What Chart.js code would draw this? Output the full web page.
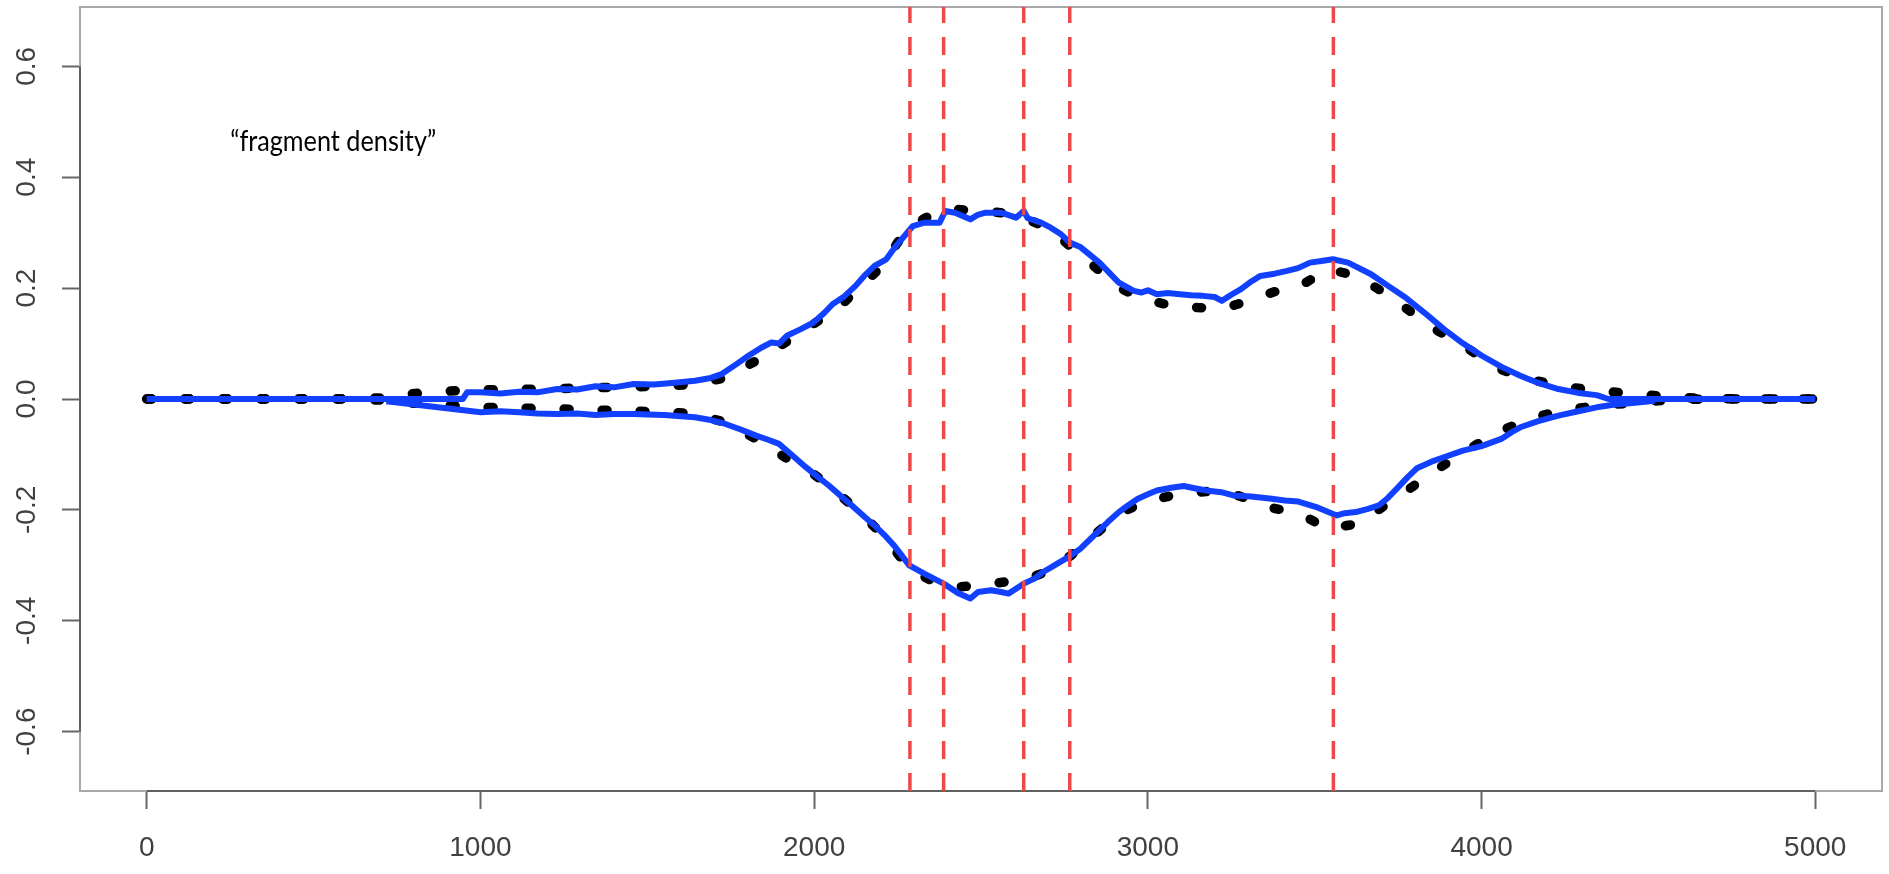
<!DOCTYPE html>
<html>
<head>
<meta charset="utf-8">
<title>fragment density</title>
<script src="https://cdn.jsdelivr.net/npm/chart.js@4/dist/chart.umd.min.js"></script>
<style>
  html, body { margin: 0; padding: 0; background: #fff; }
  #wrap { position: relative; width: 1889px; height: 874px; }
</style>
</head>
<body>
<div id="wrap"><canvas id="densityChart"></canvas></div>
<script>
// tick positions
const xTicks = [0, 1000, 2000, 3000, 4000, 5000];
const yTicks = [-0.6, -0.4, -0.2, 0, 0.2, 0.4, 0.6];

// breakpoint positions (red dashed lines)
const cutPositions = [2287, 2388, 2628, 2766, 3556];

// expected density, upper and lower strand (black dotted)
const expTopX = [0, 200, 400, 600, 700, 725, 848, 955, 1077, 1191, 1298, 1410, 1520, 1634, 1734, 1826, 1906, 1990, 2073, 2141, 2204, 2250, 2285, 2353, 2422, 2502, 2560, 2628, 2709, 2766, 2844, 2913, 2987, 3067, 3148, 3224, 3302, 3377, 3457, 3531, 3545, 3623, 3709, 3789, 3869, 3955, 4041, 4127, 4230, 4345, 4465, 4574, 4700, 4800, 5000];
const expTopY = [0, 0, 0, 0, 0.002, 0.006, 0.012, 0.016, 0.017, 0.018, 0.020, 0.021, 0.023, 0.026, 0.038, 0.069, 0.099, 0.132, 0.165, 0.204, 0.240, 0.282, 0.310, 0.333, 0.342, 0.339, 0.336, 0.327, 0.306, 0.276, 0.237, 0.201, 0.180, 0.169, 0.165, 0.163, 0.177, 0.193, 0.204, 0.231, 0.234, 0.222, 0.192, 0.157, 0.123, 0.093, 0.057, 0.038, 0.024, 0.015, 0.009, 0.003, 0.001, 0, 0];
const expBotX = [0, 200, 400, 600, 700, 725, 848, 955, 1077, 1191, 1298, 1413, 1520, 1634, 1734, 1826, 1912, 1998, 2073, 2147, 2216, 2285, 2359, 2428, 2497, 2571, 2640, 2709, 2770, 2844, 2913, 2987, 3073, 3148, 3228, 3302, 3377, 3457, 3537, 3629, 3703, 3784, 3869, 3955, 4047, 4133, 4230, 4351, 4471, 4574, 4700, 5000];
const expBotY = [0, 0, 0, 0, -0.002, -0.007, -0.008, -0.014, -0.016, -0.017, -0.019, -0.021, -0.023, -0.026, -0.042, -0.072, -0.105, -0.135, -0.171, -0.210, -0.252, -0.306, -0.330, -0.339, -0.336, -0.330, -0.324, -0.309, -0.282, -0.243, -0.207, -0.186, -0.174, -0.168, -0.165, -0.181, -0.197, -0.207, -0.234, -0.225, -0.195, -0.162, -0.126, -0.093, -0.060, -0.039, -0.021, -0.012, -0.006, -0.001, 0, 0];

// observed density, upper and lower strand (blue)
const obsTopX = [0, 500, 947, 960, 1001, 1060, 1116, 1170, 1230, 1290, 1345, 1400, 1459, 1520, 1574, 1643, 1690, 1723, 1765, 1803, 1840, 1872, 1895, 1918, 1960, 1998, 2030, 2055, 2090, 2124, 2150, 2181, 2216, 2240, 2262, 2296, 2330, 2376, 2393, 2422, 2468, 2490, 2514, 2560, 2605, 2628, 2640, 2680, 2709, 2740, 2766, 2798, 2855, 2913, 2958, 2980, 3000, 3027, 3060, 3096, 3130, 3165, 3200, 3222, 3250, 3279, 3310, 3337, 3380, 3417, 3450, 3486, 3520, 3554, 3600, 3669, 3720, 3772, 3830, 3887, 3945, 4001, 4060, 4116, 4170, 4230, 4290, 4345, 4380, 5000];
const obsTopY = [0, 0, 0, 0.012, 0.012, 0.010, 0.013, 0.012, 0.018, 0.017, 0.023, 0.021, 0.027, 0.026, 0.029, 0.033, 0.038, 0.045, 0.062, 0.078, 0.092, 0.102, 0.100, 0.114, 0.126, 0.138, 0.155, 0.171, 0.185, 0.204, 0.222, 0.240, 0.252, 0.272, 0.288, 0.312, 0.318, 0.318, 0.339, 0.336, 0.324, 0.332, 0.336, 0.336, 0.327, 0.339, 0.326, 0.318, 0.309, 0.297, 0.282, 0.274, 0.246, 0.210, 0.195, 0.192, 0.196, 0.189, 0.191, 0.189, 0.187, 0.186, 0.184, 0.177, 0.188, 0.198, 0.212, 0.222, 0.226, 0.231, 0.236, 0.246, 0.249, 0.252, 0.246, 0.225, 0.204, 0.183, 0.155, 0.126, 0.100, 0.078, 0.058, 0.042, 0.029, 0.018, 0.011, 0.007, 0, 0];
const obsBotX = [718, 1001, 1060, 1116, 1170, 1230, 1290, 1345, 1400, 1459, 1500, 1551, 1600, 1643, 1690, 1734, 1780, 1826, 1860, 1895, 1935, 1975, 2010, 2044, 2080, 2113, 2150, 2181, 2210, 2239, 2262, 2285, 2330, 2388, 2434, 2468, 2491, 2530, 2560, 2583, 2628, 2660, 2686, 2720, 2754, 2798, 2844, 2880, 2913, 2940, 2970, 3000, 3027, 3070, 3107, 3140, 3176, 3220, 3256, 3310, 3371, 3410, 3451, 3510, 3566, 3590, 3623, 3660, 3692, 3720, 3749, 3780, 3806, 3850, 3887, 3944, 4000, 4059, 4090, 4116, 4170, 4230, 4290, 4345, 4400, 4460, 4520];
const obsBotY = [-0.004, -0.024, -0.022, -0.024, -0.026, -0.027, -0.026, -0.029, -0.027, -0.027, -0.028, -0.029, -0.031, -0.033, -0.038, -0.045, -0.055, -0.066, -0.073, -0.081, -0.102, -0.123, -0.140, -0.156, -0.175, -0.192, -0.212, -0.228, -0.245, -0.264, -0.282, -0.300, -0.315, -0.333, -0.351, -0.360, -0.348, -0.345, -0.348, -0.351, -0.333, -0.324, -0.312, -0.300, -0.288, -0.270, -0.243, -0.222, -0.204, -0.192, -0.180, -0.172, -0.165, -0.160, -0.157, -0.161, -0.165, -0.168, -0.174, -0.176, -0.180, -0.183, -0.185, -0.196, -0.210, -0.206, -0.204, -0.198, -0.192, -0.178, -0.160, -0.140, -0.125, -0.113, -0.105, -0.093, -0.085, -0.072, -0.060, -0.051, -0.040, -0.030, -0.022, -0.015, -0.010, -0.007, -0.003];

const toPoints = (xs, ys) => xs.map((x, i) => ({ x: x, y: ys[i] }));

const X_MIN = -200, X_MAX = 5200;
const Y_MIN = -0.707, Y_MAX = 0.707;

const tickFont = { family: 'Liberation Sans', size: 28 };

let datasets = [];

cutPositions.forEach(function (pos) {
  datasets.push({
    data: [{ x: pos, y: Y_MIN }, { x: pos, y: Y_MAX }],
    borderColor: '#f04848',
    borderWidth: 3.5,
    borderDash: [18, 14],
    order: 0
  });
});

datasets.push({
  data: toPoints(obsTopX, obsTopY),
  borderColor: '#1240ff',
  borderWidth: 6,
  order: 1
});
datasets.push({
  data: toPoints(obsBotX, obsBotY),
  borderColor: '#1240ff',
  borderWidth: 6,
  order: 1
});
datasets.push({
  data: toPoints(expTopX, expTopY),
  borderColor: '#000',
  borderWidth: 9.5,
  borderDash: [5, 33],
  borderCapStyle: 'round',
  order: 2
});
datasets.push({
  data: toPoints(expBotX, expBotY),
  borderColor: '#000',
  borderWidth: 9.5,
  borderDash: [5, 33],
  borderCapStyle: 'round',
  order: 2
});

// box around the plot plus darker axis lines between the outer ticks
const framePlugin = {
  id: 'frame',
  beforeDatasetsDraw(chart) {
    const ctx = chart.ctx;
    const a = chart.chartArea;
    const xs = chart.scales.x, ys = chart.scales.y;
    ctx.save();
    ctx.lineWidth = 2;
    ctx.strokeStyle = '#a8a8a8';
    ctx.strokeRect(a.left, a.top, a.right - a.left, a.bottom - a.top);
    ctx.strokeStyle = '#606060';
    ctx.beginPath();
    ctx.moveTo(xs.getPixelForValue(xTicks[0]), a.bottom);
    ctx.lineTo(xs.getPixelForValue(xTicks[xTicks.length - 1]), a.bottom);
    ctx.moveTo(a.left, ys.getPixelForValue(yTicks[0]));
    ctx.lineTo(a.left, ys.getPixelForValue(yTicks[yTicks.length - 1]));
    ctx.stroke();
    ctx.restore();
  }
};

// annotation, slightly condensed
const notePlugin = {
  id: 'note',
  afterDatasetsDraw(chart) {
    const ctx = chart.ctx;
    const px = chart.scales.x.getPixelForValue(250);
    const py = chart.scales.y.getPixelForValue(0.465);
    ctx.save();
    ctx.translate(px, py);
    ctx.scale(0.87, 1);
    ctx.font = '29px Lato';
    ctx.fillStyle = '#000';
    ctx.textAlign = 'left';
    ctx.textBaseline = 'middle';
    ctx.fillText('\u201cfragment density\u201d', 0, 0);
    ctx.restore();
  }
};

let densityChart = new Chart(document.getElementById('densityChart'), {
  type: 'line',
  data: { datasets: datasets },
  options: {
    responsive: true,
    maintainAspectRatio: false,
    animation: false,
    events: [],
    layout: { padding: { left: 0, right: 7, top: 7, bottom: 0 } },
    elements: {
      point: { radius: 0 },
      line: { tension: 0, fill: false, borderJoinStyle: 'round' }
    },
    plugins: {
      legend: { display: false },
      tooltip: { enabled: false }
    },
    scales: {
      x: {
        type: 'linear',
        position: 'bottom',
        min: X_MIN,
        max: X_MAX,
        border: { display: false },
        grid: { drawOnChartArea: false, tickLength: 18, tickWidth: 2, tickColor: '#666' },
        ticks: {
          font: tickFont,
          color: '#404040',
          padding: 22,
          maxRotation: 0,
          autoSkip: false,
          callback: v => String(v)
        },
        afterBuildTicks: s => { s.ticks = xTicks.map(v => ({ value: v })); },
        afterFit: s => { s.height = 83; s.paddingLeft = 0; s.paddingRight = 0; }
      },
      y: {
        type: 'linear',
        min: Y_MIN,
        max: Y_MAX,
        border: { display: false },
        grid: { drawOnChartArea: false, tickLength: 18, tickWidth: 2, tickColor: '#666' },
        ticks: {
          font: tickFont,
          color: '#404040',
          padding: 11,
          minRotation: 90,
          maxRotation: 90,
          crossAlign: 'center',
          callback: v => v.toFixed(1)
        },
        afterBuildTicks: s => { s.ticks = yTicks.map(v => ({ value: v })); },
        afterFit: s => { s.width = 80; s.paddingTop = 0; s.paddingBottom = 0; }
      }
    }
  },
  plugins: [framePlugin, notePlugin]
});
</script>
</body>
</html>
